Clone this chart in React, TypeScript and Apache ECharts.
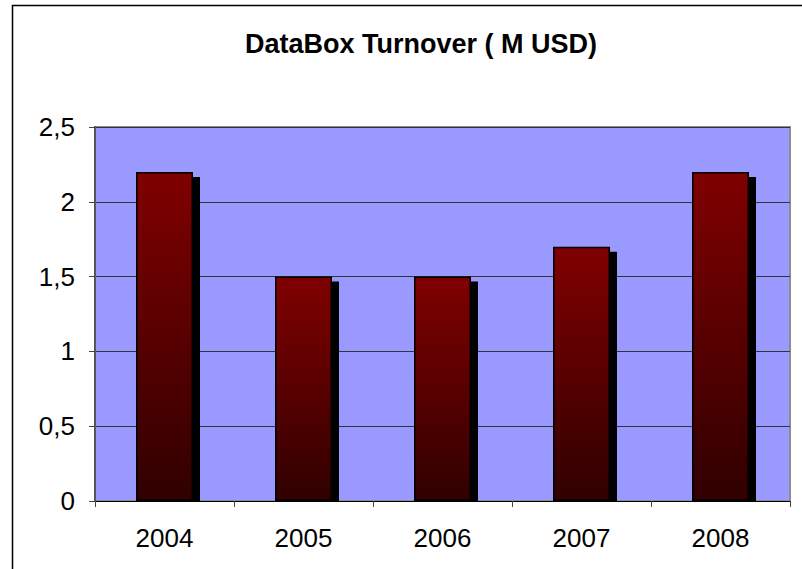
import React, { useEffect, useRef } from "react";
import * as echarts from "echarts";

const categories = ["2004", "2005", "2006", "2007", "2008"];
const turnover = [2.2, 1.5, 1.5, 1.7, 2.2];
const titleText = "DataBox Turnover ( M USD)";

const BAR_W = 57;

export default function App() {
  const ref = useRef<HTMLDivElement>(null);
  useEffect(() => {
    if (!ref.current) return;
    const chart = echarts.init(ref.current, null, { renderer: "svg" });
    chart.setOption({
      animation: false,
      backgroundColor: "#ffffff",
      title: {
        text: titleText,
        left: 416,
        top: 25,
        textAlign: "center",
        textStyle: {
          fontFamily: "Liberation Sans, Arial, sans-serif",
          fontWeight: "bold",
          fontSize: 27,
          color: "#000",
        },
      },
      graphic: [
        {
          type: "rect",
          left: 10,
          top: 3,
          shape: { x: 0, y: 0, width: 820, height: 600 },
          style: { fill: "none", stroke: "#000", lineWidth: 1.5 },
          silent: true,
          z: -1,
        },
      ],
      grid: {
        left: 95,
        top: 127,
        right: 12,
        bottom: 68,
        containLabel: false,
        show: true,
        backgroundColor: "#9999ff",
        borderColor: "#8c8c8c",
        borderWidth: 2,
      },
      xAxis: {
        type: "category",
        data: categories,
        axisLine: { show: true, lineStyle: { color: "#000", width: 1 } },
        axisTick: { show: true, alignWithLabel: false, length: 6, lineStyle: { color: "#444" } },
        axisLabel: {
          margin: 24,
          fontFamily: "Liberation Sans, Arial, sans-serif",
          fontSize: 26,
          color: "#000",
        },
        splitLine: { show: false },
      },
      yAxis: {
        type: "value",
        min: 0,
        max: 2.5,
        interval: 0.5,
        axisLine: { show: true, lineStyle: { color: "#555", width: 2 } },
        axisTick: { show: true, length: 6, lineStyle: { color: "#444" } },
        axisLabel: {
          margin: 20,
          fontFamily: "Liberation Sans, Arial, sans-serif",
          fontSize: 26,
          color: "#000",
          formatter: (v: number) => String(v).replace(".", ","),
        },
        splitLine: { show: true, lineStyle: { color: "#333", width: 1 } },
      },
      series: [
        {
          type: "custom",
          data: turnover.map((v, i) => [i, v]),
          z: 1,
          renderItem: (_params: any, api: any) => {
            const idx = api.value(0);
            const val = api.value(1);
            const top = api.coord([idx, val]);
            const bottom = api.coord([idx, 0]);
            const x = top[0] - BAR_W / 2 + 7;
            const y = top[1] + 5;
            return {
              type: "rect",
              shape: { x, y, width: BAR_W, height: bottom[1] - y },
              style: { fill: "#000" },
            };
          },
        },
        {
          type: "bar",
          data: turnover,
          barWidth: BAR_W,
          z: 3,
          itemStyle: {
            color: new echarts.graphic.LinearGradient(0, 0, 0, 1, [
              { offset: 0, color: "#800000" },
              { offset: 1, color: "#300000" },
            ]),
            borderColor: "#000",
            borderWidth: 1.5,
          },
        },
      ],
    });
    return () => chart.dispose();
  }, []);
  return (
    <div
      ref={ref}
      style={{ position: "absolute", left: 0, top: 0, width: 802, height: 569 }}
    />
  );
}
